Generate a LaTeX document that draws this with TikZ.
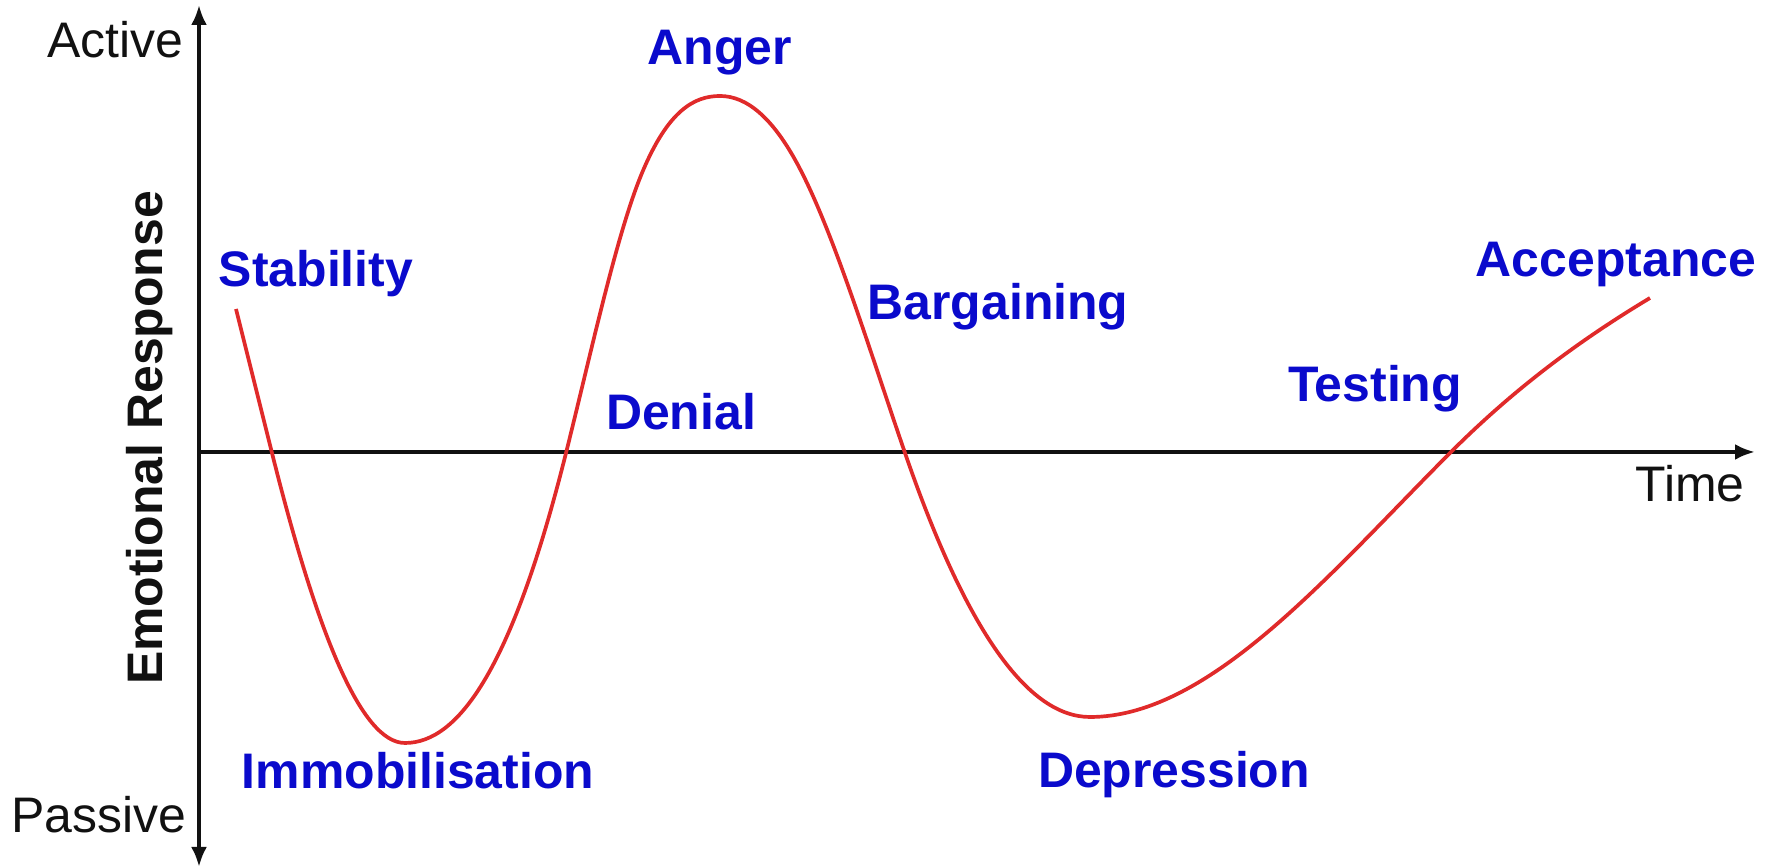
\documentclass[tikz,border=0pt]{standalone}
\usepackage{fontspec}
\setmainfont{Liberation Sans}
\usetikzlibrary{arrows.meta}
\definecolor{grfRed}{HTML}{E02A2A}
\definecolor{grfBlue}{HTML}{0A0ACC}
\definecolor{grfInk}{HTML}{111111}
\tikzset{
  grf axis/.style={draw=grfInk, line width=1.1pt},
  grf curve/.style={draw=grfRed, line width=1.05pt},
  grf stage/.style={font=\fontsize{14.2}{17}\selectfont\bfseries, text=grfBlue, inner sep=0pt, anchor=base},
  grf end label/.style={font=\fontsize{14.2}{17}\selectfont, text=grfInk, inner sep=0pt, anchor=base},
  grf title/.style={font=\fontsize{14.2}{17}\selectfont\bfseries, text=grfInk, inner sep=0pt, anchor=base, rotate=90},
}

\begin{document}
\begin{tikzpicture}[x=0.01cm,y=-0.01cm]
  \useasboundingbox (0,0) rectangle (1775,868);
  % axes
  \coordinate (ytop) at (199,5);
  \coordinate (ybot) at (199,867);
  \coordinate (origin) at (199,452);
  \coordinate (xend) at (1755,452);
  \draw[grf axis, {Latex[length=2mm,width=1.6mm]}-{Latex[length=2mm,width=1.6mm]}] (ybot) -- (ytop);
  \draw[grf axis, -{Latex[length=2mm,width=1.6mm]}] (origin) -- (xend);
  % axis labels
  \node[grf end label] (active) at (115,58) {Active};
  \node[grf end label] (passive) at (99,833) {Passive};
  \node[grf end label] (time) at (1690,502) {Time};
  \node[grf title] (response) at (162,438) {Emotional Response};
  % change curve
  \draw[grf curve] (236,309) .. controls (248,357) and (260,405) .. (272,453)
    .. controls (316.3,630.3) and (360.7,743) .. (405,743)
    .. controls (458.7,743) and (512.3,667.8) .. (566,453)
    .. controls (591.3,351.7) and (616.7,233.7) .. (642,173)
    .. controls (668,110.6) and (694,96) .. (720,96)
    .. controls (746.3,96) and (772.7,117) .. (799,167)
    .. controls (834.3,234.1) and (869.7,350.6) .. (905,453)
    .. controls (966.7,631.9) and (1028.3,717) .. (1090,717)
    .. controls (1210.3,717) and (1330.7,572.3) .. (1451,452)
    .. controls (1517.3,385.7) and (1583.7,337.8) .. (1650,298);
  % stages
  \node[grf stage] (stability) at (316,287) {Stability};
  \node[grf stage] (immobilisation) at (418,789) {Immobilisation};
  \node[grf stage] (denial) at (681,430) {Denial};
  \node[grf stage] (anger) at (720,65) {Anger};
  \node[grf stage] (bargaining) at (998,320) {Bargaining};
  \node[grf stage] (depression) at (1174,788) {Depression};
  \node[grf stage] (testing) at (1375,402) {Testing};
  \node[grf stage] (acceptance) at (1616,277) {Acceptance};
\end{tikzpicture}
\end{document}
